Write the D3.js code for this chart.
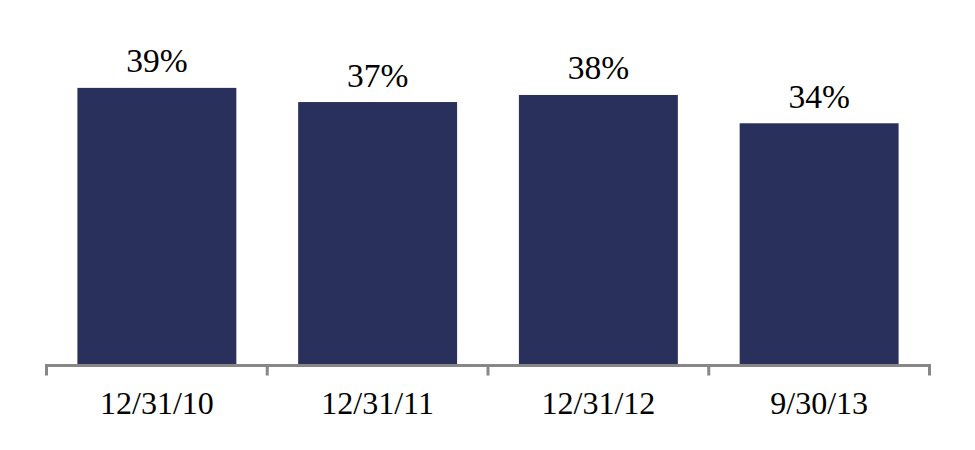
<!DOCTYPE html>
<html>
<head>
<meta charset="utf-8">
<script src="https://cdn.jsdelivr.net/npm/d3@7"></script>
<style>
  html, body { margin: 0; padding: 0; background: #fff; }
  svg { display: block; }
</style>
</head>
<body>
<svg id="chart" width="975" height="450"></svg>
<script>
const categories = ["12/31/10", "12/31/11", "12/31/12", "9/30/13"];
const values = [39, 37, 38, 34];
const valueLabels = ["39%", "37%", "38%", "34%"];

const svg = d3.select("#chart");
const font = "'Liberation Serif', 'Times New Roman', serif";

const x = d3.scaleBand().domain(categories).range([46.5, 929.5]).paddingInner(0.28).paddingOuter(0.14);
const y = d3.scaleLinear().domain([0, 50]).range([364, 10]);

svg.selectAll("rect.bar").data(values).join("rect")
  .attr("class", "bar")
  .attr("x", (d, i) => x(categories[i]))
  .attr("y", d => y(d))
  .attr("width", x.bandwidth())
  .attr("height", d => y(0) - y(d))
  .attr("fill", "#29305c");

svg.selectAll("text.val").data(values).join("text")
  .attr("class", "val")
  .attr("x", (d, i) => x(categories[i]) + x.bandwidth() / 2)
  .attr("y", d => y(d) - 15.5)
  .attr("text-anchor", "middle")
  .attr("font-family", font)
  .attr("font-size", 33.5)
  .attr("fill", "#000")
  .text((d, i) => valueLabels[i]);

// axis
const axisG = svg.append("g").attr("transform", "translate(0,365.5)");
const tickPos = [46.5].concat(categories.map(c => x(c) + x.bandwidth() / 2 + x.step() / 2));
axisG.append("line")
  .attr("x1", 45).attr("x2", 931)
  .attr("y1", 0).attr("y2", 0)
  .attr("stroke", "#878787").attr("stroke-width", 3);
axisG.selectAll("line.tick").data(tickPos).join("line")
  .attr("class", "tick")
  .attr("x1", d => d).attr("x2", d => d)
  .attr("y1", 0).attr("y2", 10)
  .attr("stroke", "#878787").attr("stroke-width", 3);

svg.selectAll("text.cat").data(categories).join("text")
  .attr("class", "cat")
  .attr("x", d => x(d) + x.bandwidth() / 2)
  .attr("y", 414)
  .attr("text-anchor", "middle")
  .attr("font-family", font)
  .attr("font-size", 32)
  .attr("fill", "#000")
  .text(d => d);
</script>
</body>
</html>
